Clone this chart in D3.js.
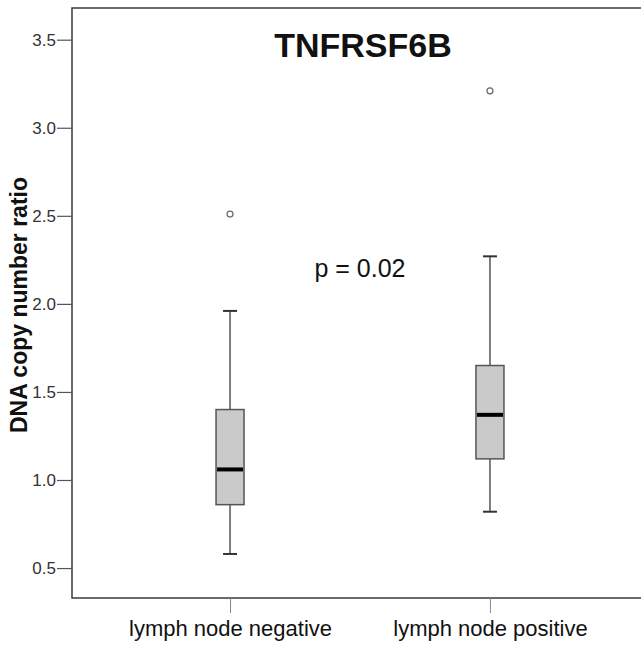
<!DOCTYPE html>
<html>
<head>
<meta charset="utf-8">
<script src="https://cdn.jsdelivr.net/npm/d3@7"></script>
<style>
  body { margin: 0; background: #fff; }
  svg { font-family: "Liberation Sans", Arial, sans-serif; }
</style>
</head>
<body>
<svg width="641" height="645"></svg>
<script>
// groepen en boxplot waardes
const groups = ["lymph node negative", "lymph node positive"];
const whiskerLow = [0.58, 0.82];
const q1 = [0.86, 1.12];
const median = [1.06, 1.37];
const q3 = [1.40, 1.65];
const whiskerHigh = [1.96, 2.27];
const outliers = [[2.51], [3.21]];
const yTicks = [0.5, 1.0, 1.5, 2.0, 2.5, 3.0, 3.5];

const svg = d3.select("svg");
const plotLeft = 72, plotRight = 648, plotTop = 8, plotBottom = 598;
const midX = (plotLeft + plotRight) / 2;

const x = d3.scalePoint()
  .domain(groups)
  .range([plotLeft, plotRight])
  .padding(0.608);

const y = d3.scaleLinear()
  .domain([0.33, 3.68])
  .range([plotBottom, plotTop]);

const boxW = 28, capW = 14;

// kader om de plot
svg.append("rect")
  .attr("x", plotLeft).attr("y", plotTop)
  .attr("width", plotRight - plotLeft).attr("height", plotBottom - plotTop)
  .attr("fill", "none").attr("stroke", "#3a3a3a").attr("stroke-width", 1.5);

// y-as
const yAxis = svg.append("g")
  .attr("transform", `translate(${plotLeft},0)`)
  .call(d3.axisLeft(y).tickValues(yTicks).tickFormat(d3.format(".1f")).tickSize(15).tickPadding(1).tickSizeOuter(0));
yAxis.select(".domain").remove();
yAxis.selectAll("line").attr("stroke", "#555").attr("stroke-width", 1.2);
yAxis.selectAll("text").attr("font-size", 17).attr("fill", "#333").attr("font-family", null);

// x-as
const xAxis = svg.append("g")
  .attr("transform", `translate(0,${plotBottom})`)
  .call(d3.axisBottom(x).tickSize(15).tickPadding(7).tickSizeOuter(0));
xAxis.select(".domain").remove();
xAxis.selectAll("line").attr("stroke", "#888");
xAxis.selectAll("text").attr("font-size", 22).attr("fill", "#111").attr("font-family", null);

// boxen tekenen
const box = svg.selectAll(".box")
  .data(groups.map((g, i) => ({ g, i })))
  .enter()
  .append("g")
  .attr("class", "box");

box.append("line")
  .attr("x1", d => x(d.g)).attr("x2", d => x(d.g))
  .attr("y1", d => y(whiskerHigh[d.i])).attr("y2", d => y(q3[d.i]))
  .attr("stroke", "#555").attr("stroke-width", 1.5);
box.append("line")
  .attr("x1", d => x(d.g)).attr("x2", d => x(d.g))
  .attr("y1", d => y(q1[d.i])).attr("y2", d => y(whiskerLow[d.i]))
  .attr("stroke", "#555").attr("stroke-width", 1.5);
box.append("line")
  .attr("x1", d => x(d.g) - capW / 2).attr("x2", d => x(d.g) + capW / 2)
  .attr("y1", d => y(whiskerHigh[d.i])).attr("y2", d => y(whiskerHigh[d.i]))
  .attr("stroke", "#333").attr("stroke-width", 2);
box.append("line")
  .attr("x1", d => x(d.g) - capW / 2).attr("x2", d => x(d.g) + capW / 2)
  .attr("y1", d => y(whiskerLow[d.i])).attr("y2", d => y(whiskerLow[d.i]))
  .attr("stroke", "#333").attr("stroke-width", 2);

box.append("rect")
  .attr("x", d => x(d.g) - boxW / 2)
  .attr("y", d => y(q3[d.i]))
  .attr("width", boxW)
  .attr("height", d => y(q1[d.i]) - y(q3[d.i]))
  .attr("fill", "#cacaca").attr("stroke", "#555").attr("stroke-width", 1.5);

box.append("line")
  .attr("x1", d => x(d.g) - boxW / 2 + 1).attr("x2", d => x(d.g) + boxW / 2 - 1)
  .attr("y1", d => y(median[d.i])).attr("y2", d => y(median[d.i]))
  .attr("stroke", "#000").attr("stroke-width", 4);

box.selectAll("circle")
  .data(d => outliers[d.i].map(v => ({ g: d.g, v })))
  .enter()
  .append("circle")
  .attr("cx", d => x(d.g)).attr("cy", d => y(d.v))
  .attr("r", 3)
  .attr("fill", "none").attr("stroke", "#666").attr("stroke-width", 1.2);

// titels
svg.append("text")
  .attr("x", midX + 3).attr("y", 57)
  .attr("text-anchor", "middle")
  .attr("font-size", 34).attr("font-weight", "bold").attr("fill", "#111")
  .text("TNFRSF6B");

svg.append("text")
  .attr("x", midX).attr("y", 277)
  .attr("text-anchor", "middle")
  .attr("font-size", 25).attr("fill", "#111")
  .text("p = 0.02");

svg.append("text")
  .attr("transform", "translate(27,305) rotate(-90)")
  .attr("text-anchor", "middle")
  .attr("font-size", 23).attr("font-weight", "bold").attr("fill", "#111")
  .text("DNA copy number ratio");
</script>
</body>
</html>
